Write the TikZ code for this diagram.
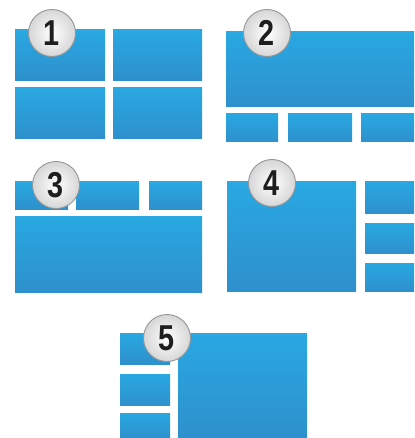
\documentclass[tikz,border=0pt]{standalone}
\usepackage{fontspec}
\setmainfont{Liberation Sans}
\definecolor{paneTop}{RGB}{41,168,226}
\definecolor{paneBot}{RGB}{46,144,204}
\definecolor{badgeRim}{RGB}{150,150,150}
\definecolor{digit}{RGB}{30,30,30}

\begin{document}
\begin{tikzpicture}[x=1pt,y=-1pt,line join=round,
  pane/.style={top color=paneTop,bottom color=paneBot,shading angle=0},
  badge/.style={circle,minimum size=47pt,inner sep=0pt,draw=badgeRim,line width=0.9pt,
    inner color=white,outer color=gray!32,text=digit,
    font=\fontsize{36}{36}\selectfont\bfseries},
  every node/.style={inner sep=1pt}]
  \useasboundingbox (0,0) rectangle (414,438);
  % layout 1
  \foreach \xa/\xb in {15/105,113/202} {
    \shade[pane] (\xa,30) rectangle (\xb,81);
    \shade[pane] (\xa,88) rectangle (\xb,139);
  }
  % layout 2
  \shade[pane] (226,32) rectangle (414,107);
  \foreach \xa/\xb in {226/278,288/352,361/414}
    \shade[pane] (\xa,114) rectangle (\xb,142);
  % layout 3
  \foreach \xa/\xb in {15/68,76/139,149/202}
    \shade[pane] (\xa,182) rectangle (\xb,209);
  \shade[pane] (15,216) rectangle (202,292);
  % layout 4
  \shade[pane] (227,182) rectangle (356,291);
  \foreach \ya/\yb in {182/213,223/253,263/291}
    \shade[pane] (365,\ya) rectangle (414,\yb);
  % layout 5
  \foreach \ya/\yb in {333/364,374/405,413/438}
    \shade[pane] (120,\ya) rectangle (170,\yb);
  \shade[pane] (178,333) rectangle (307,438);
  % numbered badges
  \node[badge] (b1) at (52,33) {\scalebox{0.8}[1]{1}};
  \node[badge] (b2) at (267,33) {\scalebox{0.8}[1]{2}};
  \node[badge] (b3) at (56,185) {\scalebox{0.8}[1]{3}};
  \node[badge] (b4) at (272,183) {\scalebox{0.8}[1]{4}};
  \node[badge] (b5) at (167,338) {\scalebox{0.8}[1]{5}};
\end{tikzpicture}
\end{document}
